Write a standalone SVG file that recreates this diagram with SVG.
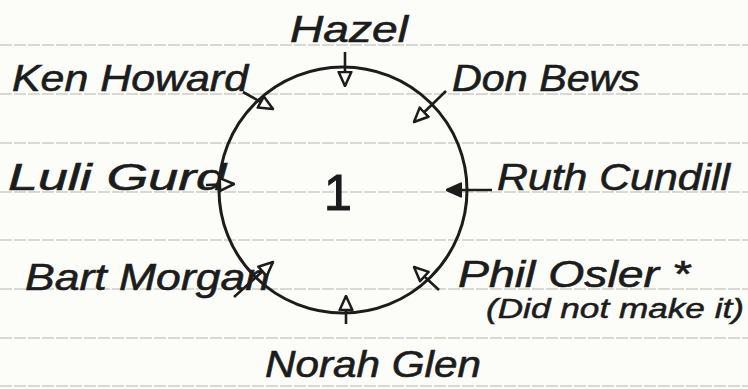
<svg xmlns="http://www.w3.org/2000/svg" width="748" height="389" viewBox="0 0 748 389">
<defs>
<style>
.bg{fill:#fcfcf8}
.rule{stroke:#b4b4b0;stroke-width:1;stroke-dasharray:12 2}
.ring{fill:none;stroke:#1c1c1c;stroke-width:3}
.conn{stroke:#1c1c1c;stroke-width:2.6;fill:none;marker-end:url(#ah)}
.conn.solid{marker-end:url(#ahf)}
.name{font-family:"Liberation Sans","DejaVu Sans",sans-serif;font-style:italic;font-size:36px;fill:#1c1c1c;stroke:#1c1c1c;stroke-width:0.6}
.note{font-family:"Liberation Sans","DejaVu Sans",sans-serif;font-style:italic;font-size:27px;fill:#1c1c1c;stroke:#1c1c1c;stroke-width:0.5}
.num{font-family:"Liberation Sans","DejaVu Sans",sans-serif;font-size:50px;fill:#1c1c1c;stroke:#1c1c1c;stroke-width:1.2}
</style>
<marker id="ah" viewBox="0 0 12 12" refX="11" refY="6" markerWidth="6.5" markerHeight="6.5" orient="auto" markerUnits="strokeWidth">
<path d="M1,1.5 L11,6 L1,10.5 z" fill="#fcfcf8" stroke="#1c1c1c" stroke-width="1.8" stroke-linejoin="round"/>
</marker>
<marker id="ahf" viewBox="0 0 12 12" refX="11" refY="6" markerWidth="6.5" markerHeight="6.5" orient="auto" markerUnits="strokeWidth">
<path d="M1,1.5 L11,6 L1,10.5 z" fill="#1c1c1c" stroke="#1c1c1c" stroke-width="1.8" stroke-linejoin="round"/>
</marker>
</defs>
<rect class="bg" x="0" y="0" width="748" height="389"/>
<g id="paper-rules">
<line class="rule" x1="0" y1="45" x2="748" y2="45"/>
<line class="rule" x1="0" y1="94" x2="748" y2="94"/>
<line class="rule" x1="0" y1="143" x2="748" y2="143"/>
<line class="rule" x1="0" y1="192" x2="748" y2="192"/>
<line class="rule" x1="0" y1="240" x2="748" y2="240"/>
<line class="rule" x1="0" y1="289" x2="748" y2="289"/>
<line class="rule" x1="0" y1="338" x2="748" y2="338"/>
<line class="rule" x1="0" y1="386" x2="748" y2="386"/>
</g>
<g id="table">
<ellipse class="ring" cx="343" cy="190" rx="124" ry="123"/>
<text class="num" x="324" y="210">1</text>
</g>
<g id="hazel"><text class="name" x="290" y="42" textLength="118" lengthAdjust="spacingAndGlyphs">Hazel</text></g>
<g id="ken-howard"><text class="name" x="12" y="91" textLength="236" lengthAdjust="spacingAndGlyphs">Ken Howard</text></g>
<g id="don-bews"><text class="name" x="452" y="91" textLength="188" lengthAdjust="spacingAndGlyphs">Don Bews</text></g>
<g id="luli-gurd"><text class="name" x="8" y="190" textLength="218" lengthAdjust="spacingAndGlyphs">Luli Gurd</text></g>
<g id="ruth-cundill"><text class="name" x="497" y="190" textLength="233" lengthAdjust="spacingAndGlyphs">Ruth Cundill</text></g>
<g id="bart-morgan"><text class="name" x="25" y="290" textLength="245" lengthAdjust="spacingAndGlyphs">Bart Morgan</text></g>
<g id="phil-osler">
<text class="name" x="458" y="287" textLength="232" lengthAdjust="spacingAndGlyphs">Phil Osler *</text>
<text class="note" x="486" y="318" textLength="258" lengthAdjust="spacingAndGlyphs">(Did not make it)</text>
</g>
<g id="norah-glen"><text class="name" x="265" y="377" textLength="216" lengthAdjust="spacingAndGlyphs">Norah Glen</text></g>
<g id="connectors">
<line class="conn" x1="345" y1="52" x2="345" y2="86"/>
<line class="conn" x1="446" y1="91" x2="414" y2="122"/>
<line class="conn" x1="243" y1="92" x2="273" y2="109"/>
<line class="conn" x1="206" y1="185" x2="234" y2="184"/>
<line class="conn solid" x1="492" y1="190" x2="447" y2="190"/>
<line class="conn" x1="234" y1="297" x2="273" y2="262"/>
<line class="conn" x1="439" y1="290" x2="414" y2="267"/>
<line class="conn" x1="346" y1="324" x2="346" y2="296"/>
</g>
</svg>
